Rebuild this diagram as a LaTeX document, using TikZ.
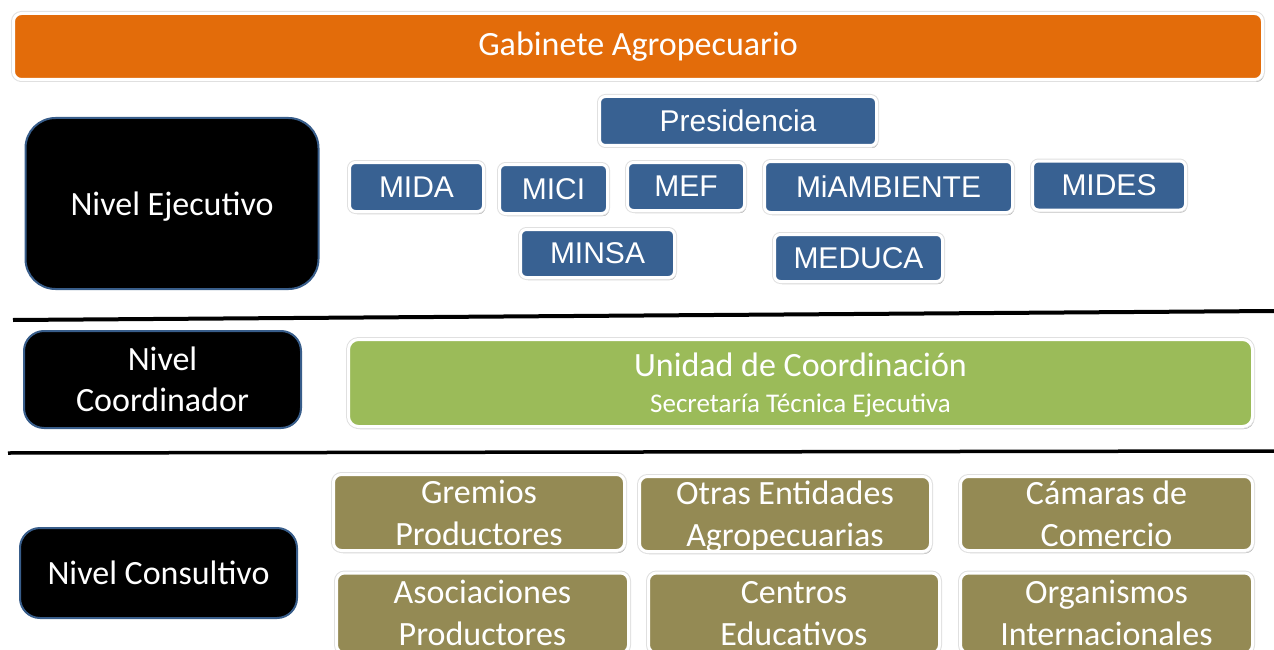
\documentclass[tikz,border=0pt]{standalone}
\usepackage{fontspec}
\setmainfont{Carlito}
\newfontfamily\arialfont{Liberation Sans}
\usetikzlibrary{shadows}
\definecolor{gorange}{RGB}{227,108,10}
\definecolor{gblue}{RGB}{56,97,146}
\definecolor{ggreen}{RGB}{155,187,89}
\definecolor{golive}{RGB}{148,138,84}
\definecolor{gedge}{RGB}{56,93,138}

\begin{document}
\begin{tikzpicture}[x=1pt, y=-1pt,
  softshadow/.style={drop shadow={shadow xshift=1.5pt, shadow yshift=-2.5pt, opacity=0.35, fill=black}},
  whitebox/.style={draw=white, line width=3pt, text=white, softshadow, preaction={draw=black!12, line width=5pt}, inner sep=0pt},
  topbar/.style={whitebox, fill=gorange, rounded corners=8pt, font=\fontsize{34}{41}\selectfont},
  levelbox/.style={fill=black, draw=gedge, line width=2pt, text=white, align=center, inner sep=0pt, text depth=0pt, font=\fontsize{34}{41}\selectfont},
  minbox/.style={whitebox, fill=gblue, rounded corners=6pt, font=\arialfont\fontsize{30}{36}\selectfont},
  unitbox/.style={whitebox, fill=ggreen, rounded corners=10pt, align=center, text depth=0pt, font=\fontsize{34}{41}\selectfont},
  sectorbox/.style={whitebox, fill=golive, rounded corners=8pt, align=center, text depth=0pt, font=\fontsize{34}{42}\selectfont}]
\clip (0,0) rectangle (1274,650);
\node[topbar, minimum width=1249, minimum height=66] (gabinete) at (638,46.5) {Gabinete Agropecuario};

\node[levelbox, rounded corners=30pt, minimum width=293, minimum height=171] (ejecutivo) at (172,203.5) {Nivel Ejecutivo};
\node[levelbox, rounded corners=20pt, minimum width=277, minimum height=97] (coordinador) at (162.5,379.5) {Nivel\\Coordinador};
\node[levelbox, rounded corners=20pt, minimum width=277, minimum height=90] (consultivo) at (158.5,573) {Nivel Consultivo};

\draw[line width=4pt] (13,320) -- (1274,311);
\draw[line width=3.5pt] (8,453) -- (1274,451);

\node[minbox, minimum width=277, minimum height=49] (presidencia) at (738,121) {Presidencia};
\node[minbox, minimum width=134, minimum height=49] (mida) at (416.5,187) {MIDA};
\node[minbox, minimum width=108, minimum height=49] (mici) at (553.5,189) {MICI};
\node[minbox, minimum width=117, minimum height=48] (mef) at (686,186.5) {MEF};
\node[minbox, minimum width=248, minimum height=51] (miambiente) at (888.5,187) {MiAMBIENTE};
\node[minbox, minimum width=153, minimum height=49] (mides) at (1109,185.5) {MIDES};
\node[minbox, minimum width=154, minimum height=48] (minsa) at (597.5,253.5) {MINSA};
\node[minbox, minimum width=168, minimum height=47] (meduca) at (858.5,258) {MEDUCA};

\node[unitbox, minimum width=904, minimum height=87] (unidad) at (800.5,383) {Unidad de Coordinación\\[-5pt]{\fontsize{27}{32}\selectfont Secretaría Técnica Ejecutiva}};

\node[sectorbox, minimum width=291, minimum height=76] (gremios) at (479,512.5) {Gremios\\Productores};
\node[sectorbox, minimum width=291, minimum height=75] (otras) at (785,514) {Otras Entidades\\Agropecuarias};
\node[sectorbox, minimum width=292, minimum height=74] (camaras) at (1106.5,513.5) {Cámaras de\\Comercio};
\node[sectorbox, minimum width=292, minimum height=80] (asociaciones) at (482.5,613) {Asociaciones\\Productores};
\node[sectorbox, minimum width=291, minimum height=80] (centros) at (794,613) {Centros\\Educativos};
\node[sectorbox, minimum width=292, minimum height=80] (organismos) at (1106.5,613) {Organismos\\Internacionales};
\end{tikzpicture}
\end{document}
